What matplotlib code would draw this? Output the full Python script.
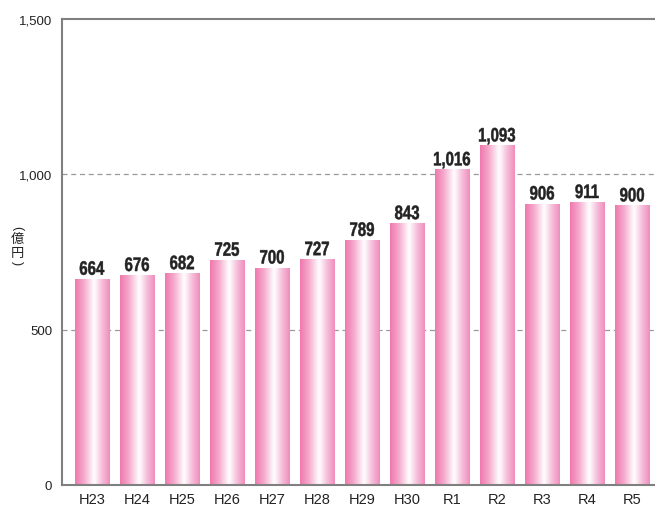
import matplotlib
matplotlib.use("Agg")
import matplotlib.pyplot as plt
import numpy as np
from matplotlib.colors import LinearSegmentedColormap
from matplotlib.textpath import TextPath
from matplotlib.font_manager import FontProperties
from matplotlib.patches import PathPatch
import matplotlib.transforms as mtransforms

categories = ["H23", "H24", "H25", "H26", "H27", "H28", "H29", "H30", "R1", "R2", "R3", "R4", "R5"]
values = [664, 676, 682, 725, 700, 727, 789, 843, 1016, 1093, 906, 911, 900]
value_labels = ["664", "676", "682", "725", "700", "727", "789", "843", "1,016", "1,093", "906", "911", "900"]
yticks = [0, 500, 1000, 1500]
ytick_labels = ["0", "500", "1,000", "1,500"]
unit_chars = ["億", "円"]

DPI = 100
fig = plt.figure(figsize=(6.55, 5.06), dpi=DPI)
W, H = 655, 506
ax = fig.add_axes([62/W, 20/H, 593/W, 466/H])

cmap = LinearSegmentedColormap.from_list(
    "pinkgrad",
    [(0.0, (0.94, 0.47, 0.68)), (0.25, (0.96, 0.66, 0.80)),
     (0.55, (1.0, 1.0, 1.0)), (0.8, (0.96, 0.72, 0.84)), (1.0, (0.94, 0.55, 0.74))])
grad = np.linspace(0, 1, 256).reshape(1, -1)

width = 0.756
x = np.arange(len(categories))
bars = ax.bar(x, values, width=width, color="none", edgecolor="none", zorder=2)
for b in bars:
    x0, y0 = b.get_x(), b.get_y()
    w, h = b.get_width(), b.get_height()
    im = ax.imshow(grad, extent=[x0, x0 + w, y0, y0 + h], aspect="auto",
                   cmap=cmap, zorder=2, interpolation="bicubic")
    im.set_clip_path(b)

ax.set_xlim(-0.667, 12.51)
ax.set_ylim(0, 1500)
ax.set_xticks(x)
ax.set_xticklabels(categories, family="Liberation Sans", fontsize=10.5, color="#222222")
ax.set_yticks(yticks)
ax.set_yticklabels(ytick_labels, family="Liberation Sans", fontsize=9.5, color="#222222")
ax.tick_params(axis="x", length=0, pad=5)
ax.tick_params(axis="y", length=0, pad=7)

for yv in [500, 1000]:
    ax.axhline(yv, color="#999999", lw=0.9, ls=(0, (4, 3)), zorder=1)

for s in ["left", "bottom", "top"]:
    ax.spines[s].set_color("#808080")
    ax.spines[s].set_linewidth(1.5)
ax.spines["right"].set_visible(False)

# condensed bold value labels
fp = FontProperties(family="Liberation Sans", weight="bold")
fsize = 14.0
xscale = 0.77
gap_px = 4.0
for xi, v, lab in zip(x, values, value_labels):
    tp = TextPath((0, 0), lab, size=fsize, prop=fp)
    ext = tp.get_extents()
    cx = (ext.x0 + ext.x1) / 2
    px, py = ax.transData.transform((xi, v))
    tr = (mtransforms.Affine2D().translate(-cx, 0).scale(xscale * DPI / 72, DPI / 72)
          .translate(px, py + gap_px))
    patch = PathPatch(tp, facecolor="#222222", edgecolor="#222222", linewidth=0.35,
                      transform=tr)
    fig.add_artist(patch)

# vertical unit label （億円）
lx = 17
fig.text(lx / W, 1 - 228 / H, "(", rotation=-90, ha="center", va="center",
         family="Liberation Sans", fontsize=9, color="#222222")
for ch, yc in zip(unit_chars, [239, 253]):
    fig.text(lx / W, 1 - yc / H, ch, ha="center", va="center",
             family=["Noto Sans CJK JP", "DejaVu Sans"], fontsize=9.5, color="#222222")
fig.text(lx / W, 1 - 263 / H, ")", rotation=-90, ha="center", va="center",
         family="Liberation Sans", fontsize=9, color="#222222")

fig.savefig("out.png", dpi=DPI)
